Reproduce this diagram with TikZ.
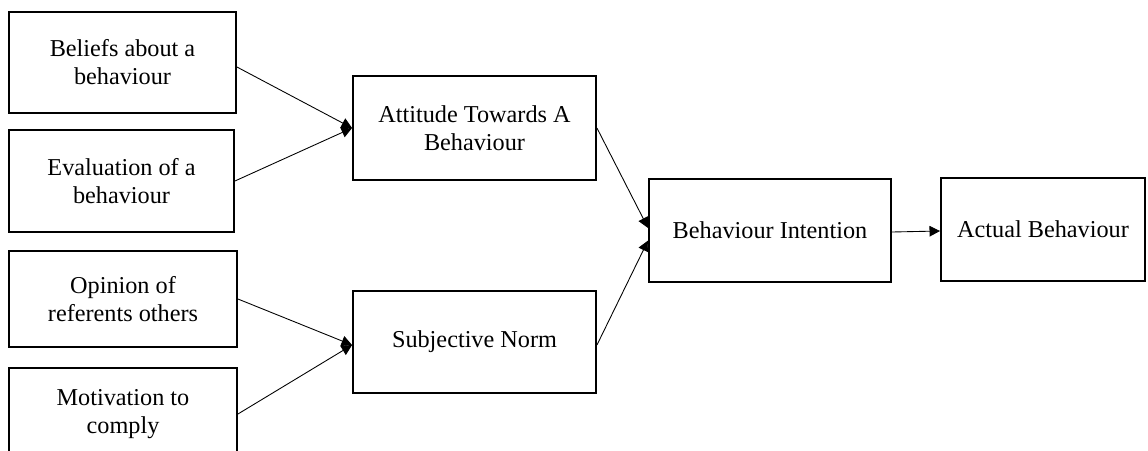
\documentclass[tikz,border=0pt]{standalone}
\usepackage{fontspec}
\setmainfont{Liberation Serif}
\usetikzlibrary{arrows.meta}
\begin{document}
\begin{tikzpicture}[x=0.02cm,y=-0.02cm,
  box/.style={draw,line width=1.1pt,align=center,inner sep=0pt,
    font=\fontsize{13.8}{16}\selectfont},
  link/.style={-{Triangle[length=6pt,width=6pt]},line width=0.5pt}]
\useasboundingbox (0,0) rectangle (1148,450);
\clip (0,0) rectangle (1148,450);
\node[box,minimum width=4.54cm,minimum height=2.02cm] (beliefs) at (122.5,62.5) {Beliefs about a\\behaviour};
\node[box,minimum width=4.5cm,minimum height=2.04cm] (eval) at (121.5,181) {Evaluation of a\\behaviour};
\node[box,minimum width=4.56cm,minimum height=1.92cm] (opinion) at (123,299) {Opinion of\\referents others};
\node[box,minimum width=4.56cm,minimum height=1.84cm] (motiv) at (123,414) {Motivation to\\comply};
\node[box,minimum width=4.86cm,minimum height=2.08cm] (att) at (474.5,128) {Attitude Towards A\\Behaviour};
\node[box,minimum width=4.86cm,minimum height=2.04cm] (norm) at (474.5,342) {Subjective Norm};
\node[box,minimum width=4.84cm,minimum height=2.06cm] (intent) at (770,230.5) {Behaviour Intention};
\node[box,minimum width=4.08cm,minimum height=2.06cm] (actual) at (1043,229.5) {Actual Behaviour};
\draw[link] ([yshift=-0.09cm]beliefs.east) -- (att.west);
\draw[link] (eval.east) -- (att.west);
\draw[link] (opinion.east) -- ([yshift=-0.06cm]norm.west);
\draw[link] (motiv.east) -- ([yshift=-0.06cm]norm.west);
\draw[link] (att.east) -- ([yshift=0.05cm]intent.west);
\draw[link] ([yshift=-0.06cm]norm.east) -- ([yshift=-0.2cm]intent.west);
\draw[link] ([yshift=-0.03cm]intent.east) -- ([yshift=-0.03cm]actual.west);
\end{tikzpicture}
\end{document}
